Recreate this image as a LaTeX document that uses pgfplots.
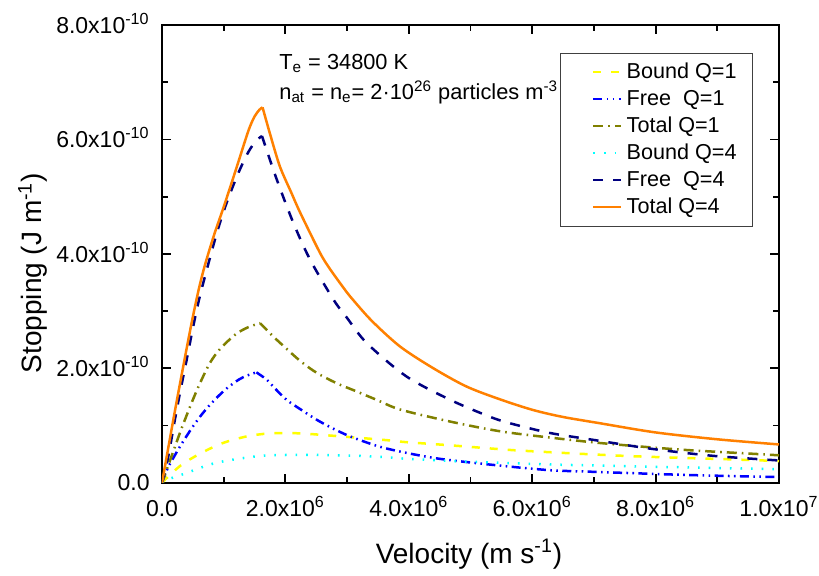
\documentclass[border=0pt]{standalone}
\usepackage{fontspec}
\setmainfont{Liberation Sans}
\usepackage{pgfplots}
\pgfplotsset{compat=1.18}

\definecolor{cBound}{RGB}{255,255,0}
\definecolor{cFree}{RGB}{0,0,255}
\definecolor{cTotal}{RGB}{128,128,0}
\definecolor{cBoundF}{RGB}{0,255,255}
\definecolor{cFreeF}{RGB}{0,0,128}
\definecolor{cTotalF}{RGB}{255,128,0}

\begin{document}
\begin{tikzpicture}
\begin{axis}[
    scale only axis,
    width=308.5pt, height=228.9pt,
    xmin=0, xmax=1e7,
    ymin=0, ymax=8e-10,
    scaled ticks=false,
    xtick={0,2e6,4e6,6e6,8e6,1e7},
    xticklabels={0.0, 2.0x10\textsuperscript{6}, 4.0x10\textsuperscript{6}, 6.0x10\textsuperscript{6}, 8.0x10\textsuperscript{6}, 1.0x10\textsuperscript{7}},
    ytick={0,2e-10,4e-10,6e-10,8e-10},
    yticklabels={0.0, 2.0x10\textsuperscript{-10}, 4.0x10\textsuperscript{-10}, 6.0x10\textsuperscript{-10}, 8.0x10\textsuperscript{-10}},
    minor x tick num=1,
    minor y tick num=1,
    tick align=inside,
    major tick length=4.5pt,
    minor tick length=2.8pt,
    every tick/.style={black, line width=0.9pt},
    axis line style={line width=1pt},
    tick label style={font=\fontsize{11.5}{13}\selectfont},
    xticklabel style={anchor=base, inner sep=0pt, yshift=-16.8pt},
    yticklabel style={anchor=base east, inner sep=0pt, xshift=-6pt, yshift=-4.1pt},
    label style={font=\fontsize{14}{16}\selectfont},
    xlabel={Velocity (m s\textsuperscript{-1})},
    ylabel={Stopping (J m\textsuperscript{-1})},
    xlabel style={at={(axis description cs:0.4976,-0.176)}, anchor=base},
    ylabel style={at={(axis description cs:-0.1945,0.458)}, anchor=base, rotate=0},
    legend style={at={(axis description cs:0.958,0.939)}, anchor=north east,
        draw=black!75, line width=0.5pt, inner xsep=6pt, inner ysep=4.3pt,
        font=\fontsize{10.8}{13}\selectfont,
        nodes={inner xsep=2pt, inner ysep=0pt, text height=8.2pt, text depth=2pt},
        row sep=3.3pt, column sep=0pt},
    legend cell align=left,
    legend image code/.code={\path (0pt,0pt); \draw[#1] (10pt,0pt) -- (24pt,0pt);},
    every axis plot/.append style={line width=1.25pt, smooth, tension=0.5},
]
% Bound Q=1
\addplot[cBound, dash pattern=on 4pt off 5pt] coordinates {
(0,0) (0.15e6,0.16e-10) (0.35e6,0.34e-10) (0.67e6,0.54e-10) (1.0e6,0.70e-10) (1.37e6,0.81e-10) (1.7e6,0.86e-10) (2.0e6,0.87e-10) (2.3e6,0.86e-10) (2.67e6,0.83e-10) (3.26e6,0.78e-10) (3.69e6,0.74e-10) (3.96e6,0.71e-10) (4.61e6,0.66e-10) (5.2e6,0.61e-10) (5.69e6,0.57e-10) (6.02e6,0.55e-10) (6.72e6,0.51e-10) (7.5e6,0.47e-10) (8.29e6,0.44e-10) (9.2e6,0.41e-10) (1e7,0.38e-10)
};
\addlegendentry{Bound Q=1}

% Free Q=1 (rise, then fall)
\addplot[cFree, dash pattern=on 4.5pt off 2.2pt on 0.8pt off 2.2pt on 0.8pt off 2.2pt] coordinates {
(0,0) (0.1e6,0.27e-10) (0.29e6,0.63e-10) (0.48e6,0.95e-10) (0.62e6,1.16e-10) (0.75e6,1.33e-10) (0.9e6,1.5e-10) (1.05e6,1.65e-10) (1.24e6,1.80e-10) (1.37e6,1.87e-10) (1.53e6,1.93e-10)
};
\addlegendentry{Free\ \ Q=1}
\addplot[cFree, forget plot, dash pattern=on 4.5pt off 2.2pt on 0.8pt off 2.2pt on 0.8pt off 2.2pt] coordinates {
(1.53e6,1.93e-10) (1.70e6,1.80e-10) (1.83e6,1.65e-10) (2.02e6,1.45e-10) (2.25e6,1.28e-10) (2.51e6,1.10e-10) (2.75e6,0.96e-10) (3.05e6,0.81e-10) (3.53e6,0.63e-10) (4.02e6,0.51e-10) (4.56e6,0.41e-10) (5.48e6,0.30e-10) (6.29e6,0.22e-10) (7.04e6,0.19e-10) (8.56e6,0.135e-10) (1e7,0.10e-10)
};

% Total Q=1
\addplot[cTotal, dash pattern=on 5pt off 2.5pt on 0.8pt off 2.5pt] coordinates {
(0,0) (0.1e6,0.3e-10) (0.2e6,0.6e-10) (0.3e6,0.9e-10) (0.4e6,1.18e-10) (0.5e6,1.45e-10) (0.62e6,1.75e-10) (0.78e6,2.1e-10) (0.95e6,2.35e-10) (1.2e6,2.6e-10) (1.4e6,2.72e-10) (1.59e6,2.79e-10)
};
\addlegendentry{Total Q=1}
\addplot[cTotal, forget plot, dash pattern=on 5pt off 2.5pt on 0.8pt off 2.5pt] coordinates {
(1.59e6,2.79e-10) (1.8e6,2.56e-10) (2.0e6,2.36e-10) (2.25e6,2.12e-10) (2.51e6,1.92e-10) (2.83e6,1.74e-10) (3.1e6,1.62e-10) (3.5e6,1.44e-10) (3.86e6,1.28e-10) (4.67e6,1.07e-10) (5.48e6,0.90e-10) (6.29e6,0.79e-10) (7.15e6,0.69e-10) (8.4e6,0.58e-10) (9.69e6,0.50e-10) (1e7,0.48e-10)
};

% Bound Q=4
\addplot[cBoundF, dash pattern=on 0.8pt off 4.5pt] coordinates {
(0,0) (0.15e6,0.08e-10) (0.37e6,0.16e-10) (0.59e6,0.25e-10) (0.78e6,0.32e-10) (0.97e6,0.37e-10) (1.18e6,0.41e-10) (1.37e6,0.44e-10) (1.59e6,0.47e-10) (1.78e6,0.48e-10) (1.97e6,0.485e-10) (2.3e6,0.49e-10) (2.7e6,0.485e-10) (3.2e6,0.47e-10) (3.58e6,0.45e-10) (3.96e6,0.42e-10) (4.7e6,0.38e-10) (5.48e6,0.35e-10) (6.3e6,0.32e-10) (7.1e6,0.30e-10) (8.44e6,0.27e-10) (9.85e6,0.24e-10) (1e7,0.235e-10)
};
\addlegendentry{Bound Q=4}

% Free Q=4
\addplot[cFreeF, dash pattern=on 5pt off 5pt] coordinates {
(0,0) (0.1e6,0.45e-10) (0.2e6,1.05e-10) (0.3e6,1.62e-10) (0.4e6,2.15e-10) (0.5e6,2.7e-10) (0.6e6,3.2e-10) (0.7e6,3.62e-10) (0.89e6,4.37e-10) (1.05e6,4.9e-10) (1.24e6,5.42e-10) (1.4e6,5.78e-10) (1.52e6,5.97e-10) (1.62e6,6.06e-10)
};
\addlegendentry{Free\ \ Q=4}
\addplot[cFreeF, forget plot, dash pattern=on 5pt off 5pt] coordinates {
(1.62e6,6.06e-10) (1.86e6,5.30e-10) (2.13e6,4.54e-10) (2.40e6,3.90e-10) (2.78e6,3.20e-10) (3.0e6,2.88e-10) (3.32e6,2.44e-10) (3.96e6,1.86e-10) (4.67e6,1.45e-10) (5.3e6,1.16e-10) (5.64e6,1.04e-10) (6.29e6,0.87e-10) (6.99e6,0.75e-10) (7.96e6,0.59e-10) (8.94e6,0.47e-10) (1e7,0.39e-10)
};

% Total Q=4
\addplot[cTotalF] coordinates {
(0,0) (0.1e6,0.6e-10) (0.2e6,1.2e-10) (0.3e6,1.78e-10) (0.4e6,2.35e-10) (0.5e6,2.9e-10) (0.6e6,3.4e-10) (0.7e6,3.82e-10) (0.85e6,4.35e-10) (1.0e6,4.82e-10) (1.2e6,5.48e-10) (1.4e6,6.15e-10) (1.5e6,6.4e-10) (1.58e6,6.52e-10) (1.63e6,6.56e-10)
};
\addlegendentry{Total Q=4}
\addplot[cTotalF, forget plot] coordinates {
(1.63e6,6.56e-10) (1.75e6,6.1e-10) (1.91e6,5.53e-10) (2.1e6,5.06e-10) (2.24e6,4.72e-10) (2.56e6,4.02e-10) (2.72e6,3.74e-10) (2.94e6,3.41e-10) (3.07e6,3.23e-10) (3.4e6,2.83e-10) (3.86e6,2.38e-10) (4.4e6,2.0e-10) (4.94e6,1.68e-10) (5.5e6,1.45e-10) (6.02e6,1.27e-10) (6.5e6,1.15e-10) (7.1e6,1.04e-10) (8.0e6,0.88e-10) (9.0e6,0.76e-10) (1e7,0.67e-10)
};

\node[anchor=base west, inner sep=0pt, font=\fontsize{10.9}{13}\selectfont] at (axis cs:1.896e6,7.23e-10) {T\textsubscript{e} = 34800 K};
\node[anchor=base west, inner sep=0pt, font=\fontsize{10.9}{13}\selectfont] at (axis cs:1.896e6,6.70e-10) {n\textsubscript{at} = n\textsubscript{e}= 2·10\textsuperscript{26} particles m\textsuperscript{-3}};
\end{axis}
\path ([shift={(-81pt,-45.65pt)}]current axis.south west) rectangle ([shift={(20pt,12.5pt)}]current axis.north east);
\end{tikzpicture}
\end{document}
